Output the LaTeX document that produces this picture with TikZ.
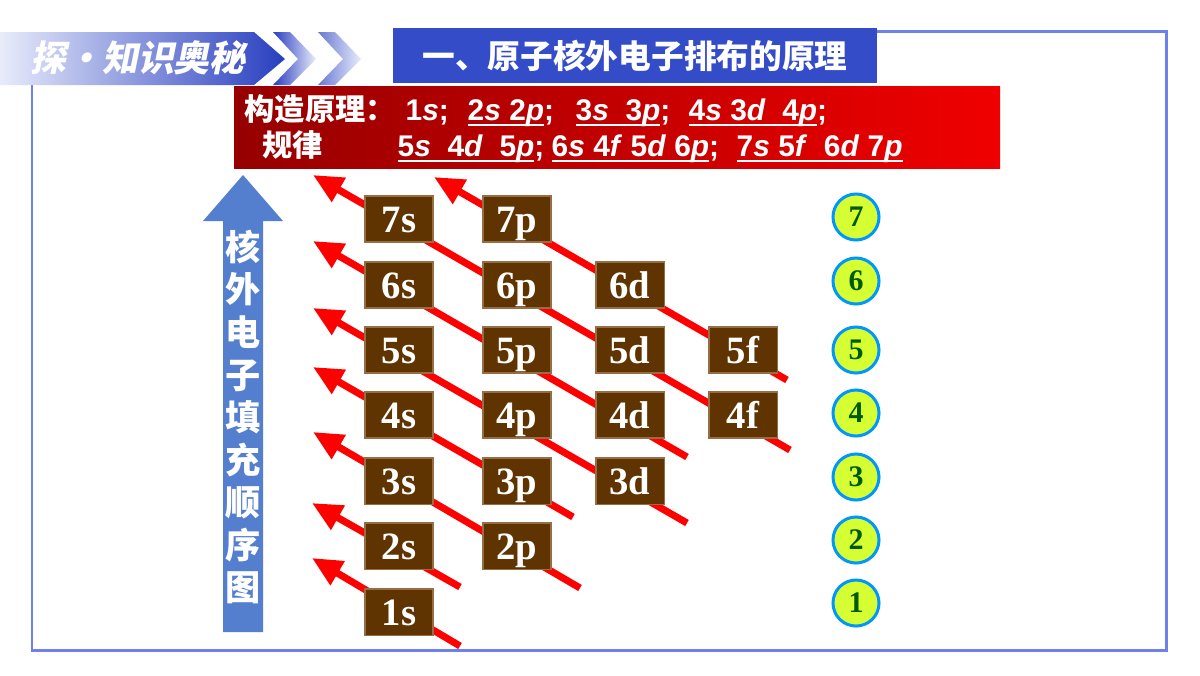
\documentclass[tikz,border=0pt]{standalone}
\usepackage{fontspec}
\usetikzlibrary{arrows.meta}
\newfontfamily\cjk{Noto Sans CJK SC}
\newfontfamily\cjkit{Noto Sans CJK SC}[FakeSlant=0.2]
\newfontfamily\arialb{Liberation Sans}
\newfontfamily\timesb{Liberation Serif}
\definecolor{orbbrown}{RGB}{96,52,0}
\definecolor{orbedge}{RGB}{150,110,70}
\definecolor{arrred}{RGB}{255,0,0}
\definecolor{titleblue}{RGB}{52,76,200}
\definecolor{bannerblue}{RGB}{40,62,192}
\definecolor{bannerlight}{RGB}{232,236,250}
\definecolor{fillblue}{RGB}{84,126,206}
\definecolor{framecol}{RGB}{110,128,236}
\definecolor{ringblue}{RGB}{0,150,255}
\definecolor{ringfill}{RGB}{214,255,51}
\definecolor{numgreen}{RGB}{0,90,0}
\definecolor{boxdark}{RGB}{150,0,0}
\definecolor{boxlight}{RGB}{240,0,0}
\newcommand{\ital}[1]{\textit{#1}}
\newcommand{\uline}[1]{\underline{\smash{#1}}}
\begin{document}
\begin{tikzpicture}[x=0.01cm,y=-0.01cm,
  orb/.style={fill=orbbrown, draw=orbedge, line width=0.3pt, minimum width=0.68cm, minimum height=0.46cm, inner sep=0pt, text height=7.4pt, text depth=0pt, text=white, font=\timesb\bfseries\fontsize{11}{13}\selectfont},
  shell/.style={circle, fill=ringfill, draw=ringblue, line width=0.85pt, minimum size=0.46cm, inner sep=0pt, text=numgreen, font=\timesb\bfseries\fontsize{8.5}{10}\selectfont},
  fillarrow/.style={arrred, line width=2pt, -{Triangle[length=8.5pt,width=7.5pt]}},
  rule/.style={anchor=base west, inner sep=0pt, text=white, font=\arialb\bfseries\fontsize{8.5}{10}\selectfont},
  rulecn/.style={anchor=base west, inner sep=0pt, text=white, font=\cjk\bfseries\fontsize{8.6}{10}\selectfont}]
\useasboundingbox (0,0) rectangle (1200,675);
\fill[white] (0,0) rectangle (1200,675);
\draw[framecol, line width=0.85pt] (877,31) -- (1166,31) -- (1166,650) -- (32,650) -- (32,85);
\shade[left color=bannerlight, right color=bannerblue] (0,32) -- (254,32) -- (285,59) -- (254,85) -- (0,85) -- cycle;
\shade[left color=bannerblue, right color=bannerlight] (273,32) -- (290,32) -- (316,59) -- (290,85) -- (273,85) -- (298,59) -- cycle;
\shade[left color=bannerblue!70!white, right color=bannerlight] (318,32) -- (335,32) -- (361,59) -- (335,85) -- (318,85) -- (343,59) -- cycle;
\node[text=white, font=\cjkit\bfseries\fontsize{10.2}{12}\selectfont] (banner) at (138,58) {探·知识奥秘};
\node[fill=titleblue, minimum width=4.84cm, minimum height=0.47cm, text=white, font=\cjk\bfseries\fontsize{9.3}{11}\selectfont] (title) at (635,55.5) {一、原子核外电子排布的原理};
\shade[left color=boxdark, right color=boxlight] (234,86) rectangle (1000,168);
\node[rulecn] (r0) at (244,120) {构造原理：};
\node[rule] (r1) at (405,120) {1\ital{s};};
\node[rule] (r2) at (467,120) {\uline{2\ital{s} 2\ital{p}};};
\node[rule] (r3) at (575,120) {\uline{3\ital{s}~~3\ital{p}};};
\node[rule] (r4) at (688,120) {\uline{4\ital{s} 3\ital{d}~~4\ital{p}};};
\node[rulecn] (r5) at (262,156) {规律};
\node[rule] (r6) at (397,156) {\uline{5\ital{s}~~4\ital{d}~~5\ital{p}};};
\node[rule] (r7) at (551,156) {\uline{6\ital{s} 4\ital{f} 5\ital{d} 6\ital{p}};};
\node[rule] (r8) at (736,156) {\uline{7\ital{s} 5\ital{f}~~6\ital{d} 7\ital{p}}};
\fill[fillblue] (243,175) -- (283,221) -- (263,221) -- (263,632) -- (223,632) -- (223,221) -- (203,221) -- cycle;
\node[align=center, text=white, font=\cjk\bfseries\fontsize{10}{12.1}\selectfont] (order) at (243,417) {核\\外\\电\\子\\填\\充\\顺\\序\\图};
\coordinate (t1) at (460,646);
\coordinate (h1) at (312,558);
\coordinate (t2) at (460,587);
\coordinate (h2) at (312,503);
\coordinate (t3) at (580,588);
\coordinate (h3) at (313,432);
\coordinate (t4) at (573,517);
\coordinate (h4) at (313,367);
\coordinate (t5) at (687,523);
\coordinate (h5) at (313,308);
\coordinate (t6) at (687,457);
\coordinate (h6) at (313,241);
\coordinate (t7) at (790,450);
\coordinate (h7) at (313,175);
\coordinate (t8) at (787,380);
\coordinate (h8) at (434,177);
\draw[fillarrow] (t1) -- (h1);
\draw[fillarrow] (t2) -- (h2);
\draw[fillarrow] (t3) -- (h3);
\draw[fillarrow] (t4) -- (h4);
\draw[fillarrow] (t5) -- (h5);
\draw[fillarrow] (t6) -- (h6);
\draw[fillarrow] (t7) -- (h7);
\draw[fillarrow] (t8) -- (h8);
\node[orb] (b7s) at (399,219) {7s};
\node[orb] (b7p) at (517,219) {7p};
\node[orb] (b6s) at (399,285) {6s};
\node[orb] (b6p) at (517,285) {6p};
\node[orb] (b6d) at (630,285) {6d};
\node[orb] (b5s) at (399,350) {5s};
\node[orb] (b5p) at (517,350) {5p};
\node[orb] (b5d) at (630,350) {5d};
\node[orb] (b5f) at (743,350) {5f};
\node[orb] (b4s) at (399,415) {4s};
\node[orb] (b4p) at (517,415) {4p};
\node[orb] (b4d) at (630,415) {4d};
\node[orb] (b4f) at (743,415) {4f};
\node[orb] (b3s) at (399,481) {3s};
\node[orb] (b3p) at (517,481) {3p};
\node[orb] (b3d) at (630,481) {3d};
\node[orb] (b2s) at (399,546) {2s};
\node[orb] (b2p) at (517,546) {2p};
\node[orb] (b1s) at (399,612) {1s};
\node[shell] (n7) at (856,217) {7};
\node[shell] (n6) at (856,281) {6};
\node[shell] (n5) at (856,350) {5};
\node[shell] (n4) at (856,413) {4};
\node[shell] (n3) at (856,477) {3};
\node[shell] (n2) at (856,540) {2};
\node[shell] (n1) at (856,603) {1};
\end{tikzpicture}
\end{document}
